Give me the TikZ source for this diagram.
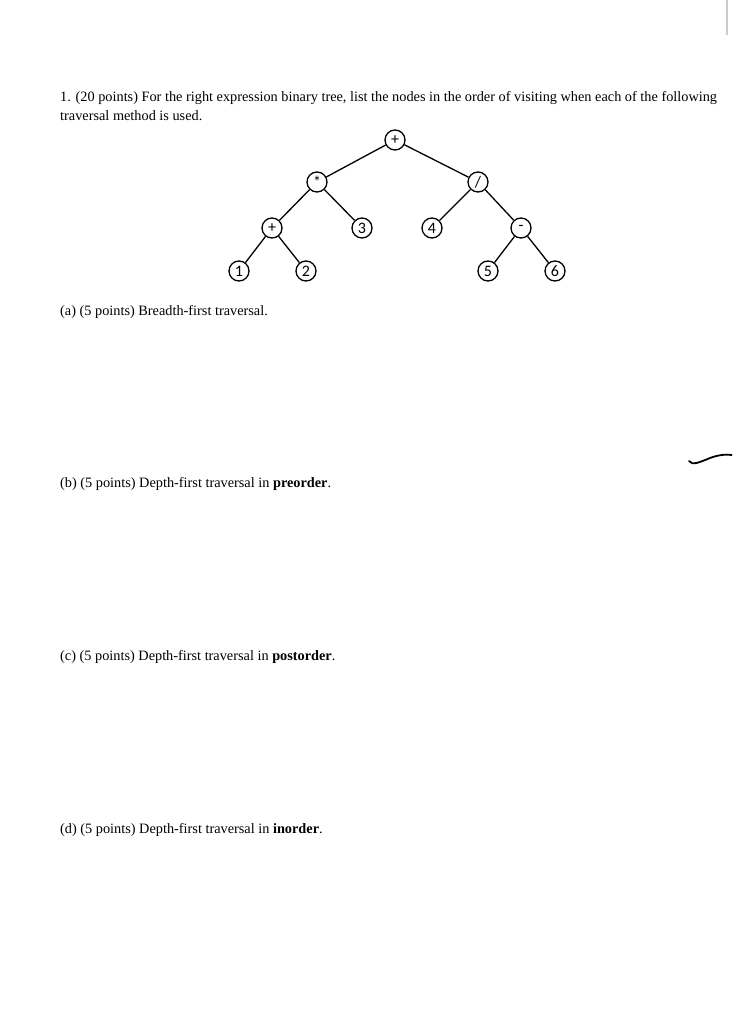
\documentclass[tikz,border=0pt]{standalone}
\usepackage{fontspec}
\setmainfont{Liberation Serif}
\newfontfamily\nodefont{Carlito}
\begin{document}
\begin{tikzpicture}[x=1pt,y=-1pt,
  vtx/.style={circle,draw,line width=1.3pt,minimum size=20pt,inner sep=0pt,font=\nodefont\fontsize{16}{16}\selectfont},
  edge/.style={line width=1.3pt},
  txt/.style={anchor=base west,inner sep=0pt,font=\fontsize{14.3}{16}\selectfont}]
  \clip (0,0) rectangle (732,1024);
  \fill[white] (0,0) rectangle (732,1024);
  % question text
  \node[txt] (q1) at (60,102) {1. (20 points) For the right expression binary tree, list the nodes in the order of visiting when each of the following};
  \node[txt] (q2) at (60,121) {traversal method is used.};
  % tree
  \node[vtx] (r) at (395,140) {+};
  \node[vtx] (m) at (317,182) {*};
  \node[vtx] (d) at (478,182) {/};
  \node[vtx] (p) at (272,228) {+};
  \node[vtx] (n3) at (362,228) {3};
  \node[vtx] (n4) at (432,228) {4};
  \node[vtx] (s) at (521,228) {-};
  \node[vtx] (n1) at (239,271) {1};
  \node[vtx] (n2) at (306,271) {2};
  \node[vtx] (n5) at (488,271) {5};
  \node[vtx] (n6) at (555,271) {6};
  \draw[edge] (r) -- (m);
  \draw[edge] (r) -- (d);
  \draw[edge] (m) -- (p);
  \draw[edge] (m) -- (n3);
  \draw[edge] (d) -- (n4);
  \draw[edge] (d) -- (s);
  \draw[edge] (p) -- (n1);
  \draw[edge] (p) -- (n2);
  \draw[edge] (s) -- (n5);
  \draw[edge] (s) -- (n6);
  % parts
  \node[txt] (a) at (60,315) {(a) (5 points) Breadth-first traversal.};
  \node[txt] (b) at (60,487) {(b) (5 points) Depth-first traversal in \textbf{preorder}.};
  \node[txt] (c) at (60,660) {(c) (5 points) Depth-first traversal in \textbf{postorder}.};
  \node[txt] (dd) at (60,833) {(d) (5 points) Depth-first traversal in \textbf{inorder}.};
  % marks at the right edge
  \draw[gray!40,line width=2pt] (727,0) -- (727,35);
  \draw[line width=1.8pt,line cap=round] (689,461) .. controls (692,466) and (700,462) .. (710,458) .. controls (718,455) and (726,454) .. (732,455);
\end{tikzpicture}
\end{document}
